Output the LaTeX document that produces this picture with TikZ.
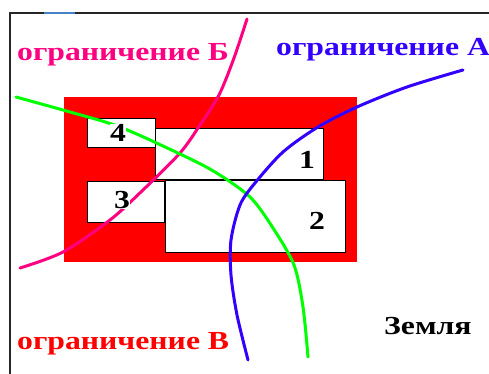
\documentclass[tikz,border=0pt]{standalone}
\usepackage{fontspec}
\setmainfont[FakeStretch=1.22]{Liberation Serif}
\usepackage{tikz}
\usetikzlibrary{positioning,calc}

\definecolor{limitA}{RGB}{51,0,255}
\definecolor{limitB}{RGB}{255,0,128}
\definecolor{limitV}{RGB}{255,0,0}
\definecolor{limitG}{RGB}{0,255,0}
\definecolor{frameblue}{RGB}{70,130,200}

\begin{document}
\begin{tikzpicture}[
    x=1pt,
    y=-1pt,
    plot/.style={
        rectangle,
        draw=black,
        fill=white,
        line width=0.8pt
    },
    num/.style={
        fill=white,
        inner sep=0.5pt,
        font=\fontsize{26}{28}\selectfont\bfseries
    },
    limit/.style={
        anchor=base west,
        inner sep=0pt,
        font=\fontsize{26}{28}\selectfont\bfseries
    },
    border/.style={
        line width=3pt,
        line cap=round
    }
]
\useasboundingbox (0,0) rectangle (489,374);

% --- Frame ---
\draw[line width=1.5pt, black!85] (10,374) -- (10,13) -- (489,13);
\draw[line width=1.5pt, frameblue] (44,13) -- (75,13);

% --- Land parcel ---
\fill[limitV] (64,97) rectangle (357,262);
\draw[plot] (155,128) rectangle (323,179);
\draw[plot] (87,118) rectangle (155,147);
\draw[plot] (165,180) rectangle (345,252);
\draw[plot] (87,181) rectangle (164,222);

% --- Boundaries ---
\draw[border, limitB] plot[smooth] coordinates {(247,19) (234,58) (219,95) (200,125) (180,153) (143,190) (110,220) (63,252) (20,268)};
\draw[border, limitG] plot[smooth] coordinates {(16,97) (70,112) (120,127) (180,154) (215,172) (250,197) (273,228) (294,265) (303,307) (308,357)};
\draw[border, limitA] plot[smooth] coordinates {(463,70) (407,87) (357,107) (318,127) (283,152) (255,183) (240,205) (231,240) (231,275) (237,315) (248,360)};

% --- Numbers ---
\node[num] (n4) at (118,133) {4};
\node[num] (n1) at (307,160) {1};
\node[num] (n3) at (122,200) {3};
\node[num] (n2) at (317,221) {2};

% --- Labels ---
\node[limit, text=limitB] (labB) at (17,61) {ограничение Б};
\node[limit, text=limitA] (labA) at (276,56) {ограничение А};
\node[limit, text=limitV] (labV) at (17,349) {ограничение В};
\node[limit] (earth) at (384,334) {Земля};

\end{tikzpicture}
\end{document}
